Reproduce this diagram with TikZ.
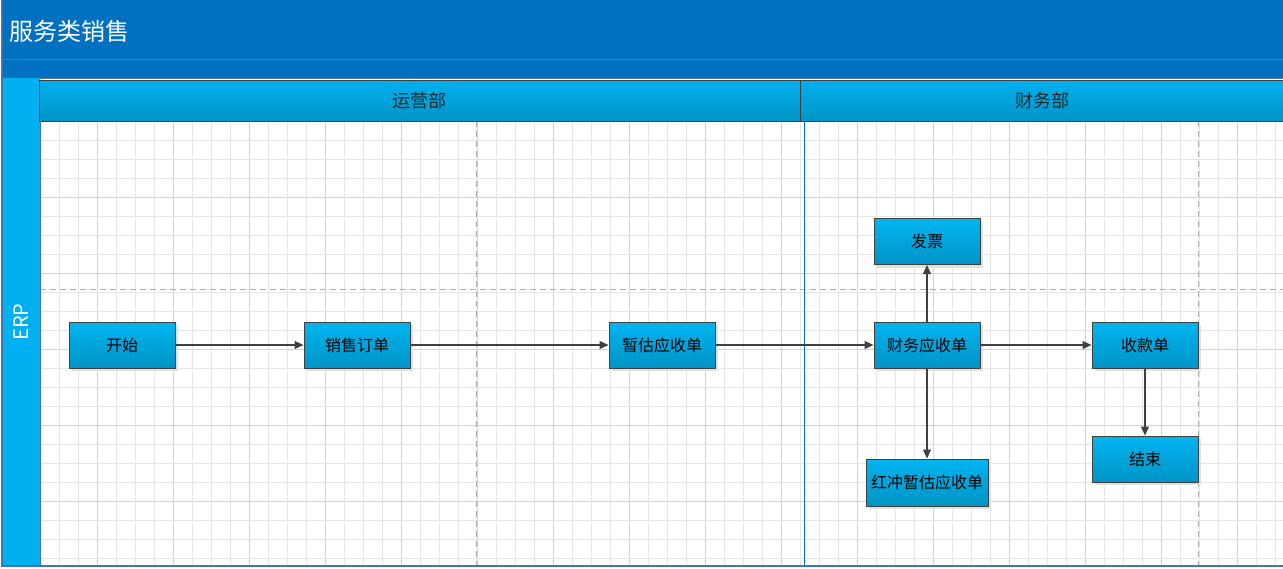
\documentclass[tikz,border=0pt]{standalone}
\usepackage{fontspec}
\setmainfont{Noto Sans CJK SC}
\usetikzlibrary{arrows.meta,shadows}
\definecolor{titleblue}{HTML}{0070C0}
\definecolor{lanecyan}{HTML}{00B0F0}
\definecolor{boxtop}{HTML}{00B5F0}
\definecolor{boxbot}{HTML}{0094C6}
\definecolor{edge}{HTML}{404040}
\definecolor{gridminor}{HTML}{E6E6E6}
\definecolor{gridmajor}{HTML}{D2D2D2}
\definecolor{bandline}{HTML}{5A7A9E}
\definecolor{frameline}{HTML}{3A78B8}
\tikzset{
  proc/.style={draw=edge, line width=1pt, top color=boxtop, bottom color=boxbot,
    minimum width=106pt, minimum height=46pt, inner sep=0pt,
    font=\fontsize{16}{16}\selectfont, text=black,
    drop shadow={shadow xshift=3pt, shadow yshift=-3pt, fill=black!12, opacity=1}},
  flow/.style={draw=edge, line width=1.2pt, -{Triangle[length=9pt,width=8pt]}},
  colhead/.style={draw=edge, line width=1pt, top color=lanecyan, bottom color=boxbot,
    inner sep=0pt, font=\fontsize{18}{18}\selectfont, text=black!85},
}
\begin{document}
\begin{tikzpicture}[x=1pt,y=-1pt]
\useasboundingbox (0,0) rectangle (1283,568);
\fill[white] (0,0) rectangle (1283,568);
% grid
\foreach \i in {0,...,65} {
  \pgfmathsetmacro{\gx}{40+19*\i}
  \pgfmathtruncatemacro{\m}{mod(\i,4)}
  \ifnum\m=3 \draw[gridmajor,line width=0.8pt] (\gx,121) -- (\gx,566);
  \else \draw[gridminor,line width=0.8pt] (\gx,121) -- (\gx,566); \fi
}
\foreach \j in {1,...,23} {
  \pgfmathsetmacro{\gy}{121+19*\j}
  \pgfmathtruncatemacro{\m}{mod(\j,4)}
  \ifnum\m=0 \draw[gridmajor,line width=0.8pt] (40,\gy) -- (1283,\gy);
  \else \draw[gridminor,line width=0.8pt] (40,\gy) -- (1283,\gy); \fi
}
% dashed separators
\draw[gray!65, line width=1pt, dash pattern=on 6pt off 4pt] (476,121) -- (476,566);
\draw[gray!65, line width=1pt, dash pattern=on 6pt off 4pt] (1198,121) -- (1198,566);
\draw[gray!65, line width=1pt, dash pattern=on 6pt off 4pt] (40,289) -- (1283,289);
% phase separator
\draw[titleblue, line width=1pt] (804,121) -- (804,566);
% title band
\fill[titleblue] (2,0) rectangle (1283,78);
\draw[bandline, line width=1pt] (2,59.5) -- (1283,59.5);
\draw[bandline, line width=1pt] (2,78) -- (1283,78);
\node[anchor=west, text=white, font=\fontsize{24}{24}\selectfont] (title) at (6,31) {服务类销售};
% left lane header
\fill[lanecyan] (2,78) rectangle (40,566);
\draw[frameline, line width=1.2pt] (2,0) -- (2,566) -- (1283,566);
\draw[frameline, line width=1pt] (40,121) -- (40,566);
\node[rotate=90, text=white, font=\fontsize{20}{20}\selectfont] (erp) at (21,322) {ERP};
% column headers
\node[colhead, minimum width=761pt, minimum height=41pt] (h1) at (419.5,100.5) {运营部};
\node[colhead, minimum width=484pt, minimum height=41pt] (h2) at (1042,100.5) {财务部};
% process nodes
\node[proc] (start) at (122,345) {开始};
\node[proc] (so) at (357,345) {销售订单};
\node[proc] (est) at (662,345) {暂估应收单};
\node[proc] (ar) at (927,345) {财务应收单};
\node[proc] (inv) at (927,241.5) {发票};
\node[proc] (rec) at (1145,345) {收款单};
\node[proc] (end) at (1145,459) {结束};
\node[proc, minimum width=122pt, minimum height=47pt] (red) at (927,482.5) {红冲暂估应收单};
% connectors
\draw[flow] (start) -- (so);
\draw[flow] (so) -- (est);
\draw[flow] (est) -- (ar);
\draw[flow] (ar) -- (inv);
\draw[flow] (ar) -- (rec);
\draw[flow] (ar) -- (red);
\draw[flow] (rec) -- (end);
\end{tikzpicture}
\end{document}
